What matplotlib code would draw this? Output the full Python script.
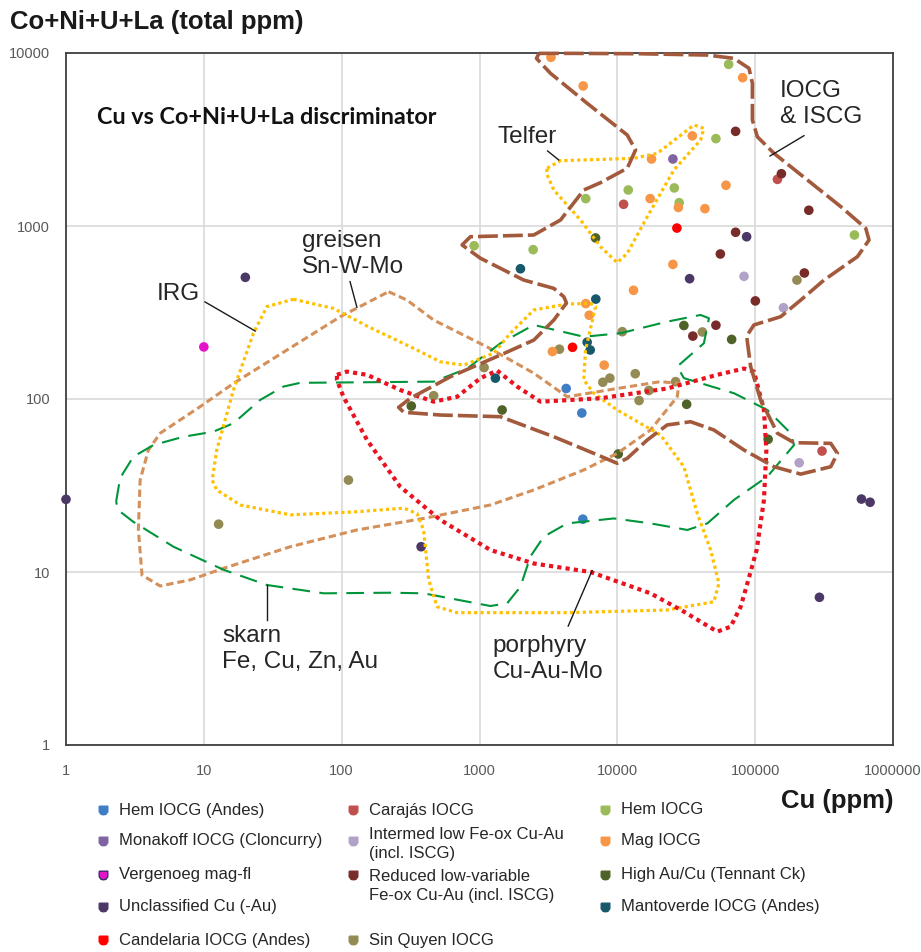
import matplotlib.pyplot as plt
from matplotlib.ticker import NullLocator

plt.rcParams['font.family'] = ['Liberation Sans', 'DejaVu Sans']

# ---------------- sample points: Cu (ppm) vs Co+Ni+U+La (total ppm) ----------------
hem_andes_cu = [4255, 5525, 5620]
hem_andes_tot = [115, 83, 20.2]

monakoff_cu = [25300]
monakoff_tot = [2440]

vergenoeg_cu = [10]
vergenoeg_tot = [200]

unclass_cu = [86700, 33450, 20, 377, 590000, 682000, 292600, 1]
unclass_tot = [867, 496, 505, 14.0, 26.4, 25.3, 7.14, 26.3]

candelaria_cu = [27050, 4730]
candelaria_tot = [973, 199]

carajas_cu = [145000, 11100, 305600]
carajas_tot = [1860, 1335, 50]

intermed_cu = [83000, 160300, 208700]
intermed_tot = [512, 337, 42.8]

reduced_cu = [72100, 155000, 245000, 72100, 55900, 227500, 100300, 35300, 51900]
reduced_tot = [3525, 2005, 1233, 920, 689, 535, 369, 231, 267]

sinquyen_cu = [201000, 10860, 41400, 3800, 1080, 13490, 8830, 7850, 26470, 16940,
               14380, 465, 112, 12.8]
sinquyen_tot = [487, 245, 244, 194, 152, 140, 132, 125, 126, 112, 98, 104.5, 34, 18.9]

hem_cu = [64200, 51900, 12000, 5900, 25900, 28100, 525000, 914, 2450]
hem_tot = [8600, 3200, 1615, 1440, 1660, 1364, 887, 769, 730]

mag_cu = [3300, 5650, 81100, 35000, 17700, 17300, 27700, 43200, 61400, 25300,
          13100, 5900, 6250, 3380, 8030]
mag_tot = [9440, 6450, 7200, 3320, 2440, 1440, 1280, 1260, 1720, 600,
           425, 356, 305, 188, 157]

highau_cu = [6950, 30400, 67500, 31830, 320, 1459, 10150, 124200]
highau_tot = [853, 266, 221, 93.2, 91.1, 86.4, 48.1, 58.5]

mantoverde_cu = [1982, 6980, 6040, 6355, 1304]
mantoverde_tot = [566, 378, 213, 192, 132]

# ---------------- discriminator fields (outline vertices) ----------------
iocg_cu = [2700, 4830, 14730, 44980, 70150, 90150, 95500, 95500, 103700, 137000,
           239300, 417800, 634400, 670000, 552000, 316000, 214000, 153000, 98000, 86700,
           92700, 109600, 145000, 191400, 353500, 395400, 353500, 214000, 137000, 83000,
           50200, 34000, 23000, 16500, 11800, 9980, 6750, 3460, 1419, 520,
           282, 259, 315, 615, 1419, 2476, 3460, 4276, 4090, 3460,
           2094, 1016, 748, 859, 2476, 3870, 5710, 7550, 11800, 13560,
           11800, 6040, 3273, 2590]
iocg_tot = [9950, 9950, 9900, 9730, 9310, 8160, 6680, 4100, 3280, 2630,
            1845, 1294, 970, 830, 665, 487, 373, 299, 268, 231,
            154, 98.7, 63.4, 55.9, 55.4, 48.5, 40.6, 36.8, 40.6, 50.7,
            66.2, 73.9, 70.8, 58, 45.4, 42.5, 48.5, 60.5, 79, 80.8,
            83.8, 89.5, 101, 134.5, 179.6, 219, 286, 359, 390, 436,
            487, 651, 777, 867, 887, 1083, 1615, 1780, 2157, 2750,
            3357, 5120, 7630, 9310]

telfer_cu = [3097, 3870, 13180, 19500, 35970, 42460, 40180, 25720, 16490, 11800,
             9980, 7550, 5405, 3460, 3061]
telfer_tot = [2157, 2385, 2462, 2630, 3837, 3670, 3141, 2108, 1132, 695,
              614, 759, 1083, 1615, 2017]

irg_cu = [44.7, 87.3, 152.7, 352, 520, 768, 1268, 1676, 2476, 4325,
          6385, 6950, 5875, 5710, 6750, 9980, 20600, 30400, 38020, 47530,
          54580, 50200, 23000, 4325, 688, 492, 428, 393, 352, 282,
          129, 42.4, 18.4, 12.4, 11.5, 12.4, 16.4, 22.9, 28.7]
irg_tot = [377, 334, 264, 192, 164, 157, 184, 240, 327, 354,
           357, 342, 192, 128.8, 108, 86.4, 61.9, 40.6, 21.8, 13.4,
           8.6, 6.73, 6.03, 5.82, 5.82, 6.30, 9.0, 17.5, 21.8, 23.4,
           22.3, 21.4, 24.4, 29.8, 34, 50.7, 112.7, 240, 342]

greisen_cu = [219, 298, 465, 1135, 2476, 4325, 9980, 20600, 28000, 27200,
              17400, 9980, 5710, 2476, 1200, 393, 129, 42.4, 13.9, 7.95,
              4.82, 3.56, 3.35, 3.45, 3.96, 4.82, 9.40, 16.4, 97.7]
greisen_tot = [417, 373, 286, 200, 141, 103, 115, 126, 123, 103,
               66.2, 48.5, 38.9, 29.8, 24.4, 20.4, 17.5, 14.0, 10.5, 9.0,
               8.3, 9.6, 17.5, 34, 50.7, 63.4, 90.3, 123, 299]

skarn_cu = [2.31, 2.47, 3.08, 4.31, 7.11, 11.7, 16.4, 25.6, 37.8, 50,
            465, 813, 1419, 2476, 5710, 10550, 23000, 40180, 46200, 42460,
            27200, 30400, 70150, 122600, 181100, 191400, 122600, 70150, 44980, 32200,
            17400, 9440, 4325, 2925, 2342, 1982, 1586, 1200, 393, 225,
            73.9, 28.7, 13.9, 6.02, 3.08, 2.39]
skarn_tot = [25.5, 34.9, 46.4, 54.2, 60.5, 64.7, 72.4, 98.7, 118, 124,
             126, 150, 210, 268, 229, 240, 280, 306, 293, 210,
             154, 132, 108, 86.4, 63.4, 54.2, 35.6, 26.1, 19.1, 17.5,
             19.1, 20.4, 19.1, 16.0, 12.3, 8.22, 6.59, 6.36, 7.53, 7.59,
             7.53, 8.41, 10.3, 14.0, 19.5, 22.8]

porph_cu = [92.4, 109, 152.7, 266, 465, 688, 1016, 1343, 1875, 2768,
            7550, 23000, 53100, 83000, 98000, 115800, 120600, 115800, 102500, 87800,
            78500, 66400, 53100, 30400, 17400, 6385, 2476, 1200, 520, 266,
            152.7, 103, 92.4]
porph_tot = [138, 144, 138, 112.7, 96.5, 103, 132, 146, 118, 96.5,
             101, 115, 138, 150, 144, 86.4, 50.7, 26.1, 13.4, 8.6,
             6.30, 4.83, 4.52, 5.90, 7.53, 10.0, 11.2, 13.4, 20.0, 31.1,
             58, 103, 128.8]

x_ticks = [1, 10, 100, 1000, 10000, 100000, 1000000]
y_ticks = [1, 10, 100, 1000, 10000]

series = [
    ('Hem IOCG (Andes)', '#3f7dc4', hem_andes_cu, hem_andes_tot),
    ('Monakoff IOCG (Cloncurry)', '#8064a2', monakoff_cu, monakoff_tot),
    ('Vergenoeg mag-fl', '#e614c8', vergenoeg_cu, vergenoeg_tot),
    ('Unclassified Cu (-Au)', '#4b3866', unclass_cu, unclass_tot),
    ('Candelaria IOCG (Andes)', '#ff0000', candelaria_cu, candelaria_tot),
    ('Carajás IOCG', '#c0504d', carajas_cu, carajas_tot),
    ('Intermed low Fe-ox Cu-Au\n(incl. ISCG)', '#b3a2c7', intermed_cu, intermed_tot),
    ('Reduced low-variable\nFe-ox Cu-Au (incl. ISCG)', '#772c2a', reduced_cu, reduced_tot),
    ('Sin Quyen IOCG', '#948a54', sinquyen_cu, sinquyen_tot),
    ('Hem IOCG', '#9bbb59', hem_cu, hem_tot),
    ('Mag IOCG', '#f79646', mag_cu, mag_tot),
    ('High Au/Cu (Tennant Ck)', '#4f6228', highau_cu, highau_tot),
    ('Mantoverde IOCG (Andes)', '#17596b', mantoverde_cu, mantoverde_tot),
]

fig = plt.figure(figsize=(9.21, 9.52), dpi=100)
ax = fig.add_axes([66 / 921, 1 - 745 / 952, 827 / 921, 692 / 952])
ax.set_xscale('log')
ax.set_yscale('log')
ax.set_xlim(1, 1e6)
ax.set_ylim(1, 1e4)

for label, col, xs, ys in series:
    ax.scatter(xs, ys, s=48, color=col, edgecolors='none', zorder=3, clip_on=False)


def closed(v):
    return v + v[:1]


line_kw = dict(solid_joinstyle='round', dash_joinstyle='round', zorder=4)
ax.plot(closed(greisen_cu), closed(greisen_tot), color='#d4905a', lw=2.2,
        dashes=(2.4, 1.3), **line_kw)
ax.plot(closed(skarn_cu), closed(skarn_tot), color='#00953b', lw=1.5,
        dashes=(8.5, 4.5), **line_kw)
ax.plot(closed(irg_cu), closed(irg_tot), color='#ffc000', lw=2.3,
        dashes=(1, 1), **line_kw)
ax.plot(closed(telfer_cu), closed(telfer_tot), color='#ffc000', lw=2.3,
        dashes=(1, 1), **line_kw)
ax.plot(closed(porph_cu), closed(porph_tot), color='#e8131e', lw=3.0,
        dashes=(1, 1), **line_kw)
ax.plot(closed(iocg_cu), closed(iocg_tot), color='#a35a3c', lw=2.6,
        dashes=(5.5, 1.4), clip_on=False, **line_kw)

# field labels and leader lines
lab_kw = dict(fontsize=17.5, color='#262626', ha='left', va='center', zorder=6)
ax.text(1349, 3270, 'Telfer', **lab_kw)
ax.text(150600, 5070, 'IOCG\n& ISCG', **lab_kw)
ax.text(51.7, 689, 'greisen\nSn-W-Mo', **lab_kw)
ax.text(4.58, 404, 'IRG', **lab_kw)
ax.text(13.6, 3.59, 'skarn\nFe, Cu, Zn, Au', **lab_kw)
ax.text(1241, 3.14, 'porphyry\nCu-Au-Mo', **lab_kw)

leaders = [((3119, 3760), (2715, 2408)),
           ((226000, 128200), (3327, 2540)),
           ((115, 129), (477, 339)),
           ((10.2, 23.6), (364, 247)),
           ((28.7, 28.7), (8.41, 5.28)),
           ((6570, 4400), (10.2, 4.87))]
for lx, ly in leaders:
    ax.plot(lx, ly, color='#1a1a1a', lw=1.0, zorder=6)

ax.text(0.0375, 0.9075, 'Cu vs Co+Ni+U+La discriminator', transform=ax.transAxes,
        fontsize=16.8, fontweight='bold', family=['Lato', 'DejaVu Sans'],
        ha='left', va='center', color='#111111')

# axes styling
ax.set_xticks(x_ticks)
ax.set_xticklabels([str(v) for v in x_ticks])
ax.set_yticks(y_ticks)
ax.set_yticklabels([str(v) for v in y_ticks])
ax.xaxis.set_minor_locator(NullLocator())
ax.yaxis.set_minor_locator(NullLocator())
ax.tick_params(length=0, labelsize=10.5, labelcolor='#595959')
ax.tick_params(axis='x', pad=13.5)
ax.tick_params(axis='y', pad=11.5)
ax.grid(True, color='#d9d9d9', lw=1.2, zorder=0)
ax.set_axisbelow(True)
for sp in ax.spines.values():
    sp.set_color('#404040')
    sp.set_linewidth(1.3)

fig.text(10 / 921, 1 - 22 / 952, 'Co+Ni+U+La (total ppm)', fontsize=18.5,
         fontweight='bold', color='#1a1a1a', ha='left', va='center')
fig.text(893 / 921, 1 - 801 / 952, 'Cu (ppm)', fontsize=18.5,
         fontweight='bold', color='#1a1a1a', ha='right', va='center')

# legend (pixel-laid overlay)
lay = fig.add_axes([0, 0, 1, 1])
lay.set_xlim(0, 921)
lay.set_ylim(952, 0)
lay.axis('off')
shield = [(-1, 1), (1, 1), (1, -0.3), (0.55, -0.9), (0, -1), (-0.55, -0.9), (-1, -0.3), (-1, 1)]
col_x = [103, 353, 605]
row_y = [810, 841, 875, 907, 940]
slots = [(0, 0), (0, 1), (0, 2), (0, 3), (0, 4),
         (1, 0), (1, 1), (1, 2), (1, 4),
         (2, 0), (2, 1), (2, 2), (2, 3)]
for (label, col, xs, ys), (c, r) in zip(series, slots):
    mx, my = col_x[c], row_y[r]
    ec = '#3a2a6a' if label.startswith('Vergenoeg') else col
    lay.plot([mx], [my], marker=shield, ms=6.2, color=col, mec=ec, mew=1.0)
    if label.startswith('Reduced'):
        lay.text(mx + 16, my - 6, label, fontsize=12, color='#262626',
                 ha='left', va='top', linespacing=1.3)
    else:
        lay.text(mx + 16, my + (3 if '\n' in label else 0), label, fontsize=12,
                 color='#262626', ha='left', va='center', linespacing=1.3)

fig.savefig('out.png', dpi=100)
